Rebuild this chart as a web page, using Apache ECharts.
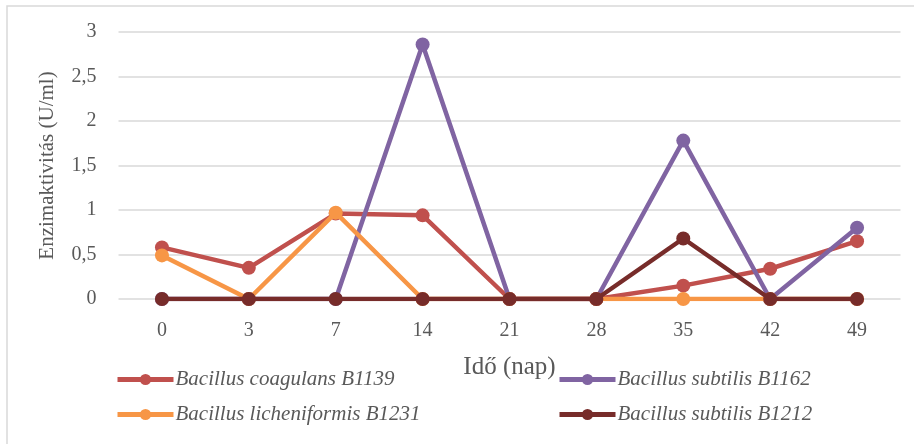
<!DOCTYPE html>
<html>
<head>
<meta charset="utf-8">
<script src="https://cdn.jsdelivr.net/npm/echarts@6/dist/echarts.min.js"></script>
<style>
  html, body { margin: 0; padding: 0; background: #fff; }
  #chart { width: 914px; height: 444px; }
</style>
</head>
<body>
<div id="chart"></div>
<script>
// Sampling days (x axis categories)
const days = ['0', '3', '7', '14', '21', '28', '35', '42', '49'];

// Enzyme activity (U/ml) per strain
const coagulansB1139 = [0.58, 0.35, 0.96, 0.94, 0, 0, 0.15, 0.34, 0.65];
const subtilisB1162 = [0, 0, 0, 2.86, 0, 0, 1.78, 0, 0.80];
const licheniformisB1231 = [0.49, 0, 0.97, 0, 0, 0, 0, 0, 0];
const subtilisB1212 = [0, 0, 0, 0, 0, 0, 0.68, 0, 0];

// Y axis ticks
const yTicks = { min: 0, max: 3, interval: 0.5 };

const seriesNames = [
  'Bacillus coagulans B1139',
  'Bacillus subtilis B1162',
  'Bacillus licheniformis B1231',
  'Bacillus subtilis B1212'
];
const seriesData = [coagulansB1139, subtilisB1162, licheniformisB1231, subtilisB1212];
const seriesColors = ['#C0504D', '#8064A2', '#F79646', '#772C2A'];

const serif = '"Liberation Serif", "Times New Roman", serif';
const textColor = '#595959';

const chart = echarts.init(document.getElementById('chart'), null, { renderer: 'canvas' });

const legendCommon = {
  orient: 'vertical',
  top: 364,
  itemWidth: 56,
  itemHeight: 14,
  itemGap: 14,
  lineStyle: { width: 5 },
  textStyle: {
    fontFamily: serif,
    fontStyle: 'italic',
    fontSize: 21,
    color: textColor,
    padding: [0, 0, 0, -3]
  }
};

chart.setOption({
  animation: false,
  backgroundColor: '#ffffff',
  graphic: [{
    type: 'rect',
    shape: { x: 7, y: 6, width: 940, height: 480 },
    style: { fill: 'none', stroke: '#d9d9d9', lineWidth: 1.5 },
    silent: true
  }],
  grid: { left: 118.5, right: 13.5, top: 32, bottom: 145 },
  legend: [
    Object.assign({}, legendCommon, { left: 110, data: [seriesNames[0], seriesNames[2]] }),
    Object.assign({}, legendCommon, { left: 552, data: [seriesNames[1], seriesNames[3]] })
  ],
  xAxis: {
    type: 'category',
    data: days,
    boundaryGap: true,
    name: 'Idő (nap)',
    nameLocation: 'middle',
    nameGap: 56,
    nameTextStyle: { fontFamily: serif, fontSize: 25, color: textColor },
    axisLine: { show: false },
    axisTick: { show: false },
    axisLabel: { fontFamily: serif, fontSize: 20, color: textColor, margin: 22 }
  },
  yAxis: {
    type: 'value',
    min: yTicks.min,
    max: yTicks.max,
    interval: yTicks.interval,
    name: 'Enzimaktivitás (U/ml)',
    nameLocation: 'middle',
    nameGap: 61,
    nameTextStyle: { fontFamily: serif, fontSize: 21, color: textColor },
    axisLine: { show: false },
    axisTick: { show: false },
    axisLabel: {
      fontFamily: serif, fontSize: 20, color: textColor, margin: 22,
      formatter: v => String(v).replace('.', ',')
    },
    splitLine: { lineStyle: { color: '#d9d9d9', width: 1.5 } }
  },
  series: seriesNames.map((name, i) => ({
    name: name,
    type: 'line',
    data: seriesData[i],
    symbol: 'circle',
    symbolSize: 14,
    showAllSymbol: true,
    z: 2 + i,
    lineStyle: { color: seriesColors[i], width: 4.5 },
    itemStyle: { color: seriesColors[i], borderWidth: 0 }
  }))
});
</script>
</body>
</html>
